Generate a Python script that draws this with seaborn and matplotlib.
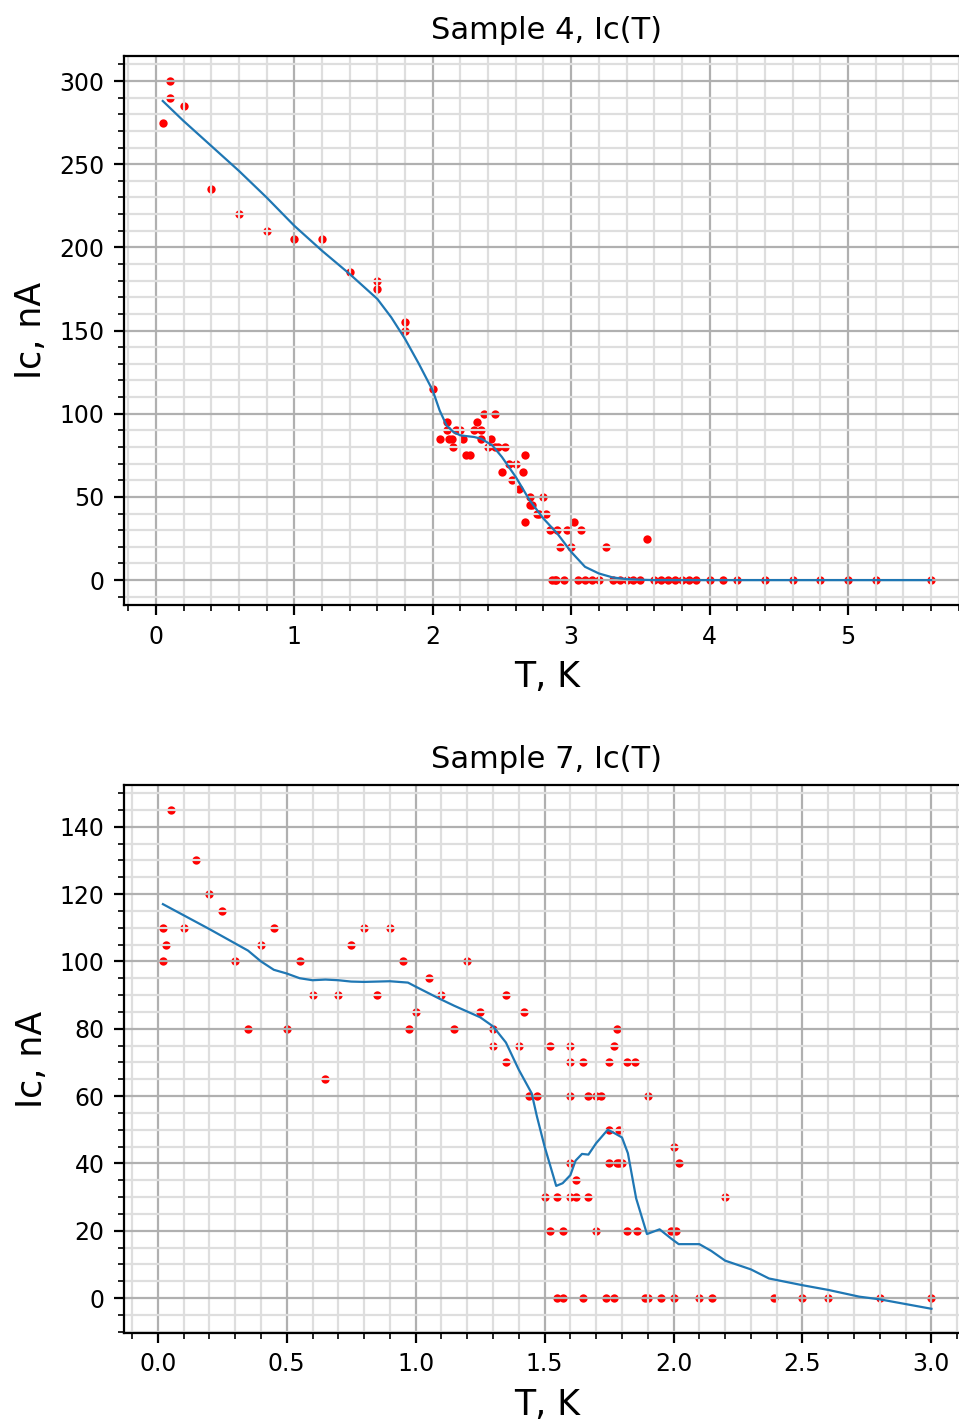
import matplotlib
matplotlib.use("Agg")
import matplotlib.pyplot as plt
from matplotlib.ticker import AutoMinorLocator
import seaborn as sns

# Sample 4: измеренные точки
s4_T = [0.05, 0.1, 0.1, 0.2, 0.4, 0.6, 0.8, 1.0, 1.2, 1.4, 1.6, 1.6, 1.8, 1.8, 2.0,
        2.1, 2.1, 2.05, 2.12, 2.14, 2.15, 2.17, 2.2, 2.22, 2.24, 2.27, 2.3, 2.32, 2.35,
        2.35, 2.37, 2.4, 2.42, 2.45, 2.45, 2.47, 2.52, 2.5, 2.55, 2.6, 2.57, 2.65, 2.62,
        2.67, 2.67, 2.7, 2.72, 2.7, 2.75, 2.77, 2.8, 2.82, 2.85, 2.9, 2.92, 2.97, 3.0,
        3.02, 3.07, 3.25, 3.55,
        2.86, 2.88, 2.89, 2.95, 3.05, 3.1, 3.15, 3.2, 3.3, 3.35, 3.4, 3.45, 3.5,
        3.6, 3.65, 3.7, 3.75, 3.8, 3.85, 3.9, 4.0, 4.1, 4.2, 4.4, 4.6, 4.8, 5.0, 5.2, 5.6]
s4_I = [275, 300, 290, 285, 235, 220, 210, 205, 205, 185, 180, 175, 155, 150, 115,
        95, 90, 85, 85, 85, 80, 90, 90, 85, 75, 75, 90, 95, 90,
        85, 100, 80, 85, 100, 80, 80, 80, 65, 70, 70, 60, 65, 55,
        75, 35, 50, 45, 45, 40, 40, 50, 40, 30, 30, 20, 30, 20,
        35, 30, 20, 25,
        0, 0, 0, 0, 0, 0, 0, 0, 0, 0, 0, 0, 0,
        0, 0, 0, 0, 0, 0, 0, 0, 0, 0, 0, 0, 0, 0, 0, 0]

# Sample 4: сглаженная кривая
s4_line_T = [0.05, 0.2, 0.4, 0.6, 0.8, 1.0, 1.2, 1.4, 1.6, 1.7, 1.8, 1.9, 2.0, 2.05, 2.1,
             2.15, 2.2, 2.3, 2.35, 2.43, 2.5, 2.6, 2.7, 2.8, 2.9, 3.0, 3.1, 3.2, 3.3,
             3.4, 3.5, 3.6, 4.0, 5.6]
s4_line_I = [288, 276, 261, 246, 230, 213, 198, 184, 169, 158, 145, 130, 114, 102, 93,
             89, 87, 86, 85, 81, 74, 62, 48, 37, 28, 17, 8, 4, 1.6,
             0.6, 0.2, 0, 0, 0]

# Sample 7: измеренные точки
s7_T = [0.05, 0.15, 0.2, 0.25, 0.02, 0.03, 0.02, 0.1, 0.3, 0.35, 0.4, 0.45, 0.5, 0.55,
        0.6, 0.65, 0.7, 0.75, 0.8, 0.85, 0.9, 0.95, 0.975, 1.0, 1.05, 1.1, 1.15, 1.2,
        1.25, 1.3, 1.3, 1.35, 1.35, 1.4, 1.42, 1.44, 1.47,
        1.52, 1.6, 1.78, 1.77, 1.6, 1.65, 1.75, 1.82, 1.85, 1.6, 1.67, 1.7, 1.72, 1.9,
        1.75, 1.79, 2.0, 1.6, 1.75, 1.78, 1.79, 1.8, 2.02, 1.62, 1.5, 1.55, 1.6, 1.62,
        1.67, 2.2, 1.52, 1.57, 1.7, 1.82, 1.86, 1.99, 2.01,
        1.55, 1.57, 1.65, 1.74, 1.77, 1.89, 1.9, 1.95, 2.0, 2.1, 2.15, 2.39, 2.5, 2.6,
        2.8, 3.0]
s7_I = [145, 130, 120, 115, 110, 105, 100, 110, 100, 80, 105, 110, 80, 100,
        90, 65, 90, 105, 110, 90, 110, 100, 80, 85, 95, 90, 80, 100,
        85, 80, 75, 90, 70, 75, 85, 60, 60,
        75, 75, 80, 75, 70, 70, 70, 70, 70, 60, 60, 60, 60, 60,
        50, 50, 45, 40, 40, 40, 40, 40, 40, 35, 30, 30, 30, 30,
        30, 30, 20, 20, 20, 20, 20, 20, 20,
        0, 0, 0, 0, 0, 0, 0, 0, 0, 0, 0, 0, 0, 0,
        0, 0]

# Sample 7: сглаженная кривая
s7_line_T = [0.02, 0.2, 0.35, 0.4, 0.45, 0.5, 0.55, 0.6, 0.65, 0.7, 0.75, 0.8, 0.9,
             0.97, 1.0, 1.09, 1.15, 1.25, 1.3, 1.35, 1.4, 1.45, 1.47, 1.5, 1.545,
             1.57, 1.6, 1.62, 1.645, 1.67, 1.7, 1.745, 1.77, 1.8, 1.823, 1.855, 1.897,
             1.946, 1.99, 2.02, 2.1, 2.146, 2.2, 2.3, 2.37, 2.5, 2.6, 2.72, 2.8, 3.0]
s7_line_I = [117, 109.6, 103.2, 100, 97.5, 96.4, 95, 94.4, 94.6, 94.4, 94, 93.9, 94.1,
             93.7, 92.5, 89, 86.8, 83.4, 80.7, 75.9, 67.8, 60.8, 54, 45, 33.3,
             34.1, 36.5, 40.8, 42.8, 42.6, 46, 50, 49, 47.7, 43, 29.6, 19,
             20.4, 17.7, 16, 16, 14, 11.1, 8.5, 5.8, 3.8, 2.4, 0.4, -0.4, -3.2]

plt.rcParams['font.family'] = ['DejaVu Sans']

fig = plt.figure(figsize=(4.795, 7.095), dpi=200)
ax1 = fig.add_axes([0.1293, 0.5736, 0.882, 0.3869])
ax2 = fig.add_axes([0.1293, 0.0606, 0.882, 0.3862])


def style_axis(ax, title):
    ax.set_title(title, fontsize=11)
    ax.set_xlabel('T, K', fontsize=12.5)
    ax.set_ylabel('Ic, nA', fontsize=12.5)
    ax.xaxis.set_minor_locator(AutoMinorLocator())
    ax.yaxis.set_minor_locator(AutoMinorLocator())
    ax.grid(which='major', color='#b0b0b0', linewidth=0.8)
    ax.grid(which='minor', color='#dedede', linewidth=0.8)
    ax.tick_params(labelsize=8.5)


# верхний график
sns.scatterplot(x=s4_T, y=s4_I, color='red', s=9, linewidth=0, ax=ax1)
sns.lineplot(x=s4_line_T, y=s4_line_I, color='#1f77b4', linewidth=0.8,
             estimator=None, sort=False, ax=ax1)
ax1.set_xlim(-0.23, 5.88)
ax1.set_ylim(-15, 315)
style_axis(ax1, 'Sample 4, Ic(T)')

# нижний график
sns.scatterplot(x=s7_T, y=s7_I, color='red', s=9, linewidth=0, ax=ax2)
sns.lineplot(x=s7_line_T, y=s7_line_I, color='#1f77b4', linewidth=0.8,
             estimator=None, sort=False, ax=ax2)
ax2.set_xlim(-0.131, 3.149)
ax2.set_ylim(-10.4, 152.4)
ax2.set_yticks([0, 20, 40, 60, 80, 100, 120, 140])
style_axis(ax2, 'Sample 7, Ic(T)')

fig.savefig('out.png', dpi=200)
